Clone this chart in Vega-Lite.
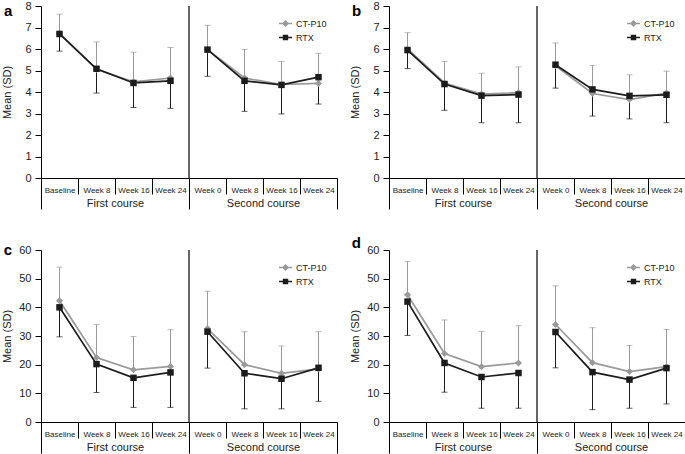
{
  "$schema": "https://vega.github.io/schema/vega-lite/v6.json",
  "padding": {"left": 1, "top": 0, "right": 0, "bottom": 0},
  "background": "white",
  "config": {
    "font": "Liberation Sans",
    "view": {"stroke": null},
    "axis": {"grid": false, "domainColor": "#000", "tickColor": "#000", "labelColor": "#222", "titleColor": "#222"},
    "title": {"baseline": "alphabetic", "fontSize": 15, "fontWeight": "bold", "color": "#000", "anchor": "start", "frame": "bounds"},
    "legend": {"orient": "top-right", "offset": 10, "title": null, "padding": 0, "labelFontSize": 9, "labelColor": "#222", "symbolSize": 169, "rowPadding": 1, "labelOffset": 3, "symbolStrokeWidth": 1.5}
  },
  "resolve": {"scale": {"color": "independent", "shape": "independent"}, "legend": {"color": "independent", "shape": "independent"}},
  "datasets": {
    "rows": [
      {"p":"a","c":"First course","v":"Baseline|1","d":"CT-P10","m":6.73,"e":7.62},
      {"p":"a","c":"First course","v":"Baseline|1","d":"RTX","m":6.70,"e":5.90},
      {"p":"a","c":"First course","v":"Week 8|1","d":"CT-P10","m":5.05,"e":6.33},
      {"p":"a","c":"First course","v":"Week 8|1","d":"RTX","m":5.08,"e":3.95},
      {"p":"a","c":"First course","v":"Week 16|1","d":"CT-P10","m":4.47,"e":5.85},
      {"p":"a","c":"First course","v":"Week 16|1","d":"RTX","m":4.42,"e":3.28},
      {"p":"a","c":"First course","v":"Week 24|1","d":"CT-P10","m":4.65,"e":6.07},
      {"p":"a","c":"First course","v":"Week 24|1","d":"RTX","m":4.52,"e":3.24},
      {"p":"a","c":"Second course","v":"Week 0|2","d":"CT-P10","m":5.97,"e":7.10},
      {"p":"a","c":"Second course","v":"Week 0|2","d":"RTX","m":5.97,"e":4.73},
      {"p":"a","c":"Second course","v":"Week 8|2","d":"CT-P10","m":4.65,"e":5.98},
      {"p":"a","c":"Second course","v":"Week 8|2","d":"RTX","m":4.52,"e":3.10},
      {"p":"a","c":"Second course","v":"Week 16|2","d":"CT-P10","m":4.35,"e":5.42},
      {"p":"a","c":"Second course","v":"Week 16|2","d":"RTX","m":4.33,"e":2.98},
      {"p":"a","c":"Second course","v":"Week 24|2","d":"CT-P10","m":4.40,"e":5.80},
      {"p":"a","c":"Second course","v":"Week 24|2","d":"RTX","m":4.69,"e":3.44},

      {"p":"b","c":"First course","v":"Baseline|1","d":"CT-P10","m":6.00,"e":6.76},
      {"p":"b","c":"First course","v":"Baseline|1","d":"RTX","m":5.95,"e":5.09},
      {"p":"b","c":"First course","v":"Week 8|1","d":"CT-P10","m":4.42,"e":5.42},
      {"p":"b","c":"First course","v":"Week 8|1","d":"RTX","m":4.37,"e":3.15},
      {"p":"b","c":"First course","v":"Week 16|1","d":"CT-P10","m":3.90,"e":4.87},
      {"p":"b","c":"First course","v":"Week 16|1","d":"RTX","m":3.83,"e":2.57},
      {"p":"b","c":"First course","v":"Week 24|1","d":"CT-P10","m":3.97,"e":5.17},
      {"p":"b","c":"First course","v":"Week 24|1","d":"RTX","m":3.88,"e":2.57},
      {"p":"b","c":"Second course","v":"Week 0|2","d":"CT-P10","m":5.22,"e":6.28},
      {"p":"b","c":"Second course","v":"Week 0|2","d":"RTX","m":5.27,"e":4.18},
      {"p":"b","c":"Second course","v":"Week 8|2","d":"CT-P10","m":3.93,"e":5.23},
      {"p":"b","c":"Second course","v":"Week 8|2","d":"RTX","m":4.12,"e":2.88},
      {"p":"b","c":"Second course","v":"Week 16|2","d":"CT-P10","m":3.65,"e":4.80},
      {"p":"b","c":"Second course","v":"Week 16|2","d":"RTX","m":3.82,"e":2.75},
      {"p":"b","c":"Second course","v":"Week 24|2","d":"CT-P10","m":3.95,"e":4.97},
      {"p":"b","c":"Second course","v":"Week 24|2","d":"RTX","m":3.87,"e":2.57},

      {"p":"c","c":"First course","v":"Baseline|1","d":"CT-P10","m":42.3,"e":54.0},
      {"p":"c","c":"First course","v":"Baseline|1","d":"RTX","m":40.0,"e":29.7},
      {"p":"c","c":"First course","v":"Week 8|1","d":"CT-P10","m":22.5,"e":34.0},
      {"p":"c","c":"First course","v":"Week 8|1","d":"RTX","m":20.2,"e":10.3},
      {"p":"c","c":"First course","v":"Week 16|1","d":"CT-P10","m":18.2,"e":29.8},
      {"p":"c","c":"First course","v":"Week 16|1","d":"RTX","m":15.4,"e":5.1},
      {"p":"c","c":"First course","v":"Week 24|1","d":"CT-P10","m":19.4,"e":32.2},
      {"p":"c","c":"First course","v":"Week 24|1","d":"RTX","m":17.3,"e":5.1},
      {"p":"c","c":"Second course","v":"Week 0|2","d":"CT-P10","m":32.6,"e":45.6},
      {"p":"c","c":"Second course","v":"Week 0|2","d":"RTX","m":31.5,"e":18.8},
      {"p":"c","c":"Second course","v":"Week 8|2","d":"CT-P10","m":20.0,"e":31.5},
      {"p":"c","c":"Second course","v":"Week 8|2","d":"RTX","m":17.0,"e":4.6},
      {"p":"c","c":"Second course","v":"Week 16|2","d":"CT-P10","m":17.0,"e":26.5},
      {"p":"c","c":"Second course","v":"Week 16|2","d":"RTX","m":15.1,"e":4.6},
      {"p":"c","c":"Second course","v":"Week 24|2","d":"CT-P10","m":18.5,"e":31.5},
      {"p":"c","c":"Second course","v":"Week 24|2","d":"RTX","m":18.9,"e":7.2},

      {"p":"d","c":"First course","v":"Baseline|1","d":"CT-P10","m":44.4,"e":56.0},
      {"p":"d","c":"First course","v":"Baseline|1","d":"RTX","m":42.0,"e":30.2},
      {"p":"d","c":"First course","v":"Week 8|1","d":"CT-P10","m":23.9,"e":35.6},
      {"p":"d","c":"First course","v":"Week 8|1","d":"RTX","m":20.6,"e":10.4},
      {"p":"d","c":"First course","v":"Week 16|1","d":"CT-P10","m":19.3,"e":31.6},
      {"p":"d","c":"First course","v":"Week 16|1","d":"RTX","m":15.7,"e":4.8},
      {"p":"d","c":"First course","v":"Week 24|1","d":"CT-P10","m":20.6,"e":33.6},
      {"p":"d","c":"First course","v":"Week 24|1","d":"RTX","m":17.1,"e":4.8},
      {"p":"d","c":"Second course","v":"Week 0|2","d":"CT-P10","m":34.0,"e":47.5},
      {"p":"d","c":"Second course","v":"Week 0|2","d":"RTX","m":31.4,"e":18.9},
      {"p":"d","c":"Second course","v":"Week 8|2","d":"CT-P10","m":20.7,"e":32.9},
      {"p":"d","c":"Second course","v":"Week 8|2","d":"RTX","m":17.4,"e":4.3},
      {"p":"d","c":"Second course","v":"Week 16|2","d":"CT-P10","m":17.6,"e":26.7},
      {"p":"d","c":"Second course","v":"Week 16|2","d":"RTX","m":14.8,"e":4.8},
      {"p":"d","c":"Second course","v":"Week 24|2","d":"CT-P10","m":19.3,"e":32.3},
      {"p":"d","c":"Second course","v":"Week 24|2","d":"RTX","m":18.8,"e":6.3}
    ]
  },
  "columns": 2,
  "spacing": {"row": 25, "column": 11},
  "concat": [
    {
      "width": 296, "height": 172,
      "title": {"text": "a", "offset": -18.5, "dx": 2},
      "layer": [
        {
          "data": {"values": [{"course": "Second course"}]},
          "mark": {"type": "rule", "color": "#000", "strokeWidth": 1.2},
          "encoding": {"x": {"field": "course", "type": "nominal", "bandPosition": 0,
            "scale": {"type": "band", "domain": ["First course", "Second course"], "paddingInner": 0, "paddingOuter": 0},
            "axis": {"orient": "bottom", "title": null, "domain": false, "tickBand": "extent", "tickSize": 31, "labelAngle": 0, "labelFontSize": 11, "labelPadding": -12}}}
        },
        {
          "data": {"name": "rows"},
          "transform": [{"filter": "datum.p === 'a'"}],
          "encoding": {
            "x": {"field": "v", "type": "nominal",
              "scale": {"type": "band", "domain": ["Baseline|1","Week 8|1","Week 16|1","Week 24|1","Week 0|2","Week 8|2","Week 16|2","Week 24|2"], "paddingInner": 0, "paddingOuter": 0},
              "axis": {"orient": "bottom", "title": null, "tickBand": "extent", "tickSize": 16, "labelAngle": 0, "labelFontSize": 8, "labelPadding": -8, "labelExpr": "split(datum.label, '|')[0]"}},
            "y": {"field": "m", "type": "quantitative", "scale": {"domain": [0, 8]},
              "axis": {"title": "Mean (SD)", "values": [0,1,2,3,4,5,6,7,8], "tickSize": 6, "labelFontSize": 11, "labelPadding": 4, "titleFontSize": 11, "titleFontWeight": "normal", "titlePadding": 12}},
            "color": {"field": "d", "type": "nominal", "scale": {"domain": ["CT-P10", "RTX"], "range": ["#9a9a9a", "#1c1c1c"]}, "legend": {}}
          },
          "layer": [
            {"transform": [{"filter": "datum.p === 'none'"}], "mark": {"type": "point", "filled": false, "strokeWidth": 1.5, "opacity": 1},
              "encoding": {"shape": {"field": "d", "type": "nominal", "scale": {"domain": ["CT-P10", "RTX"], "range": ["M-1,0H1M0,-0.38L0.38,0L0,0.38L-0.38,0Z", "M-1,0H1M-0.3,-0.3H0.3V0.3H-0.3Z"]}, "legend": {}}}},
            {"mark": {"type": "rule", "strokeWidth": 1}, "encoding": {"y2": {"field": "e"}}},
            {"mark": {"type": "tick", "thickness": 1, "size": 6}, "encoding": {"y": {"field": "e", "type": "quantitative"}}},
            {"mark": {"type": "line", "strokeWidth": 1.7}, "encoding": {"detail": {"field": "c"}}},
            {"transform": [{"filter": "datum.d === 'CT-P10'"}], "mark": {"type": "point", "filled": true, "opacity": 1, "size": 50, "shape": "diamond"}},
            {"transform": [{"filter": "datum.d === 'RTX'"}], "mark": {"type": "point", "filled": true, "opacity": 1, "size": 42, "shape": "square"}}
          ]
        }
      ],
      "resolve": {"scale": {"x": "independent"}, "axis": {"x": "independent"}}
    },
    {
      "width": 296, "height": 172,
      "title": {"text": "b", "offset": -18.5, "dx": 2},
      "layer": [
        {
          "data": {"values": [{"course": "Second course"}]},
          "mark": {"type": "rule", "color": "#000", "strokeWidth": 1.2},
          "encoding": {"x": {"field": "course", "type": "nominal", "bandPosition": 0,
            "scale": {"type": "band", "domain": ["First course", "Second course"], "paddingInner": 0, "paddingOuter": 0},
            "axis": {"orient": "bottom", "title": null, "domain": false, "tickBand": "extent", "tickSize": 31, "labelAngle": 0, "labelFontSize": 11, "labelPadding": -12}}}
        },
        {
          "data": {"name": "rows"},
          "transform": [{"filter": "datum.p === 'b'"}],
          "encoding": {
            "x": {"field": "v", "type": "nominal",
              "scale": {"type": "band", "domain": ["Baseline|1","Week 8|1","Week 16|1","Week 24|1","Week 0|2","Week 8|2","Week 16|2","Week 24|2"], "paddingInner": 0, "paddingOuter": 0},
              "axis": {"orient": "bottom", "title": null, "tickBand": "extent", "tickSize": 16, "labelAngle": 0, "labelFontSize": 8, "labelPadding": -8, "labelExpr": "split(datum.label, '|')[0]"}},
            "y": {"field": "m", "type": "quantitative", "scale": {"domain": [0, 8]},
              "axis": {"title": "Mean (SD)", "values": [0,1,2,3,4,5,6,7,8], "tickSize": 6, "labelFontSize": 11, "labelPadding": 4, "titleFontSize": 11, "titleFontWeight": "normal", "titlePadding": 12}},
            "color": {"field": "d", "type": "nominal", "scale": {"domain": ["CT-P10", "RTX"], "range": ["#9a9a9a", "#1c1c1c"]}, "legend": {}}
          },
          "layer": [
            {"transform": [{"filter": "datum.p === 'none'"}], "mark": {"type": "point", "filled": false, "strokeWidth": 1.5, "opacity": 1},
              "encoding": {"shape": {"field": "d", "type": "nominal", "scale": {"domain": ["CT-P10", "RTX"], "range": ["M-1,0H1M0,-0.38L0.38,0L0,0.38L-0.38,0Z", "M-1,0H1M-0.3,-0.3H0.3V0.3H-0.3Z"]}, "legend": {}}}},
            {"mark": {"type": "rule", "strokeWidth": 1}, "encoding": {"y2": {"field": "e"}}},
            {"mark": {"type": "tick", "thickness": 1, "size": 6}, "encoding": {"y": {"field": "e", "type": "quantitative"}}},
            {"mark": {"type": "line", "strokeWidth": 1.7}, "encoding": {"detail": {"field": "c"}}},
            {"transform": [{"filter": "datum.d === 'CT-P10'"}], "mark": {"type": "point", "filled": true, "opacity": 1, "size": 50, "shape": "diamond"}},
            {"transform": [{"filter": "datum.d === 'RTX'"}], "mark": {"type": "point", "filled": true, "opacity": 1, "size": 42, "shape": "square"}}
          ]
        }
      ],
      "resolve": {"scale": {"x": "independent"}, "axis": {"x": "independent"}}
    },
    {
      "width": 296, "height": 172,
      "title": {"text": "c", "offset": -13.5, "dx": 2},
      "layer": [
        {
          "data": {"values": [{"course": "Second course"}]},
          "mark": {"type": "rule", "color": "#000", "strokeWidth": 1.2},
          "encoding": {"x": {"field": "course", "type": "nominal", "bandPosition": 0,
            "scale": {"type": "band", "domain": ["First course", "Second course"], "paddingInner": 0, "paddingOuter": 0},
            "axis": {"orient": "bottom", "title": null, "domain": false, "tickBand": "extent", "tickSize": 31, "labelAngle": 0, "labelFontSize": 11, "labelPadding": -12}}}
        },
        {
          "data": {"name": "rows"},
          "transform": [{"filter": "datum.p === 'c'"}],
          "encoding": {
            "x": {"field": "v", "type": "nominal",
              "scale": {"type": "band", "domain": ["Baseline|1","Week 8|1","Week 16|1","Week 24|1","Week 0|2","Week 8|2","Week 16|2","Week 24|2"], "paddingInner": 0, "paddingOuter": 0},
              "axis": {"orient": "bottom", "title": null, "tickBand": "extent", "tickSize": 16, "labelAngle": 0, "labelFontSize": 8, "labelPadding": -8, "labelExpr": "split(datum.label, '|')[0]"}},
            "y": {"field": "m", "type": "quantitative", "scale": {"domain": [0, 60]},
              "axis": {"title": "Mean (SD)", "values": [0,10,20,30,40,50,60], "tickSize": 6, "labelFontSize": 11, "labelPadding": 4, "titleFontSize": 11, "titleFontWeight": "normal", "titlePadding": 6}},
            "color": {"field": "d", "type": "nominal", "scale": {"domain": ["CT-P10", "RTX"], "range": ["#9a9a9a", "#1c1c1c"]}, "legend": {}}
          },
          "layer": [
            {"transform": [{"filter": "datum.p === 'none'"}], "mark": {"type": "point", "filled": false, "strokeWidth": 1.5, "opacity": 1},
              "encoding": {"shape": {"field": "d", "type": "nominal", "scale": {"domain": ["CT-P10", "RTX"], "range": ["M-1,0H1M0,-0.38L0.38,0L0,0.38L-0.38,0Z", "M-1,0H1M-0.3,-0.3H0.3V0.3H-0.3Z"]}, "legend": {}}}},
            {"mark": {"type": "rule", "strokeWidth": 1}, "encoding": {"y2": {"field": "e"}}},
            {"mark": {"type": "tick", "thickness": 1, "size": 6}, "encoding": {"y": {"field": "e", "type": "quantitative"}}},
            {"mark": {"type": "line", "strokeWidth": 1.7}, "encoding": {"detail": {"field": "c"}}},
            {"transform": [{"filter": "datum.d === 'CT-P10'"}], "mark": {"type": "point", "filled": true, "opacity": 1, "size": 50, "shape": "diamond"}},
            {"transform": [{"filter": "datum.d === 'RTX'"}], "mark": {"type": "point", "filled": true, "opacity": 1, "size": 42, "shape": "square"}}
          ]
        }
      ],
      "resolve": {"scale": {"x": "independent"}, "axis": {"x": "independent"}}
    },
    {
      "width": 296, "height": 172,
      "title": {"text": "d", "offset": -6.5, "dx": 2},
      "layer": [
        {
          "data": {"values": [{"course": "Second course"}]},
          "mark": {"type": "rule", "color": "#000", "strokeWidth": 1.2},
          "encoding": {"x": {"field": "course", "type": "nominal", "bandPosition": 0,
            "scale": {"type": "band", "domain": ["First course", "Second course"], "paddingInner": 0, "paddingOuter": 0},
            "axis": {"orient": "bottom", "title": null, "domain": false, "tickBand": "extent", "tickSize": 31, "labelAngle": 0, "labelFontSize": 11, "labelPadding": -12}}}
        },
        {
          "data": {"name": "rows"},
          "transform": [{"filter": "datum.p === 'd'"}],
          "encoding": {
            "x": {"field": "v", "type": "nominal",
              "scale": {"type": "band", "domain": ["Baseline|1","Week 8|1","Week 16|1","Week 24|1","Week 0|2","Week 8|2","Week 16|2","Week 24|2"], "paddingInner": 0, "paddingOuter": 0},
              "axis": {"orient": "bottom", "title": null, "tickBand": "extent", "tickSize": 16, "labelAngle": 0, "labelFontSize": 8, "labelPadding": -8, "labelExpr": "split(datum.label, '|')[0]"}},
            "y": {"field": "m", "type": "quantitative", "scale": {"domain": [0, 60]},
              "axis": {"title": "Mean (SD)", "values": [0,10,20,30,40,50,60], "tickSize": 6, "labelFontSize": 11, "labelPadding": 4, "titleFontSize": 11, "titleFontWeight": "normal", "titlePadding": 6}},
            "color": {"field": "d", "type": "nominal", "scale": {"domain": ["CT-P10", "RTX"], "range": ["#9a9a9a", "#1c1c1c"]}, "legend": {}}
          },
          "layer": [
            {"transform": [{"filter": "datum.p === 'none'"}], "mark": {"type": "point", "filled": false, "strokeWidth": 1.5, "opacity": 1},
              "encoding": {"shape": {"field": "d", "type": "nominal", "scale": {"domain": ["CT-P10", "RTX"], "range": ["M-1,0H1M0,-0.38L0.38,0L0,0.38L-0.38,0Z", "M-1,0H1M-0.3,-0.3H0.3V0.3H-0.3Z"]}, "legend": {}}}},
            {"mark": {"type": "rule", "strokeWidth": 1}, "encoding": {"y2": {"field": "e"}}},
            {"mark": {"type": "tick", "thickness": 1, "size": 6}, "encoding": {"y": {"field": "e", "type": "quantitative"}}},
            {"mark": {"type": "line", "strokeWidth": 1.7}, "encoding": {"detail": {"field": "c"}}},
            {"transform": [{"filter": "datum.d === 'CT-P10'"}], "mark": {"type": "point", "filled": true, "opacity": 1, "size": 50, "shape": "diamond"}},
            {"transform": [{"filter": "datum.d === 'RTX'"}], "mark": {"type": "point", "filled": true, "opacity": 1, "size": 42, "shape": "square"}}
          ]
        }
      ],
      "resolve": {"scale": {"x": "independent"}, "axis": {"x": "independent"}}
    }
  ]
}
